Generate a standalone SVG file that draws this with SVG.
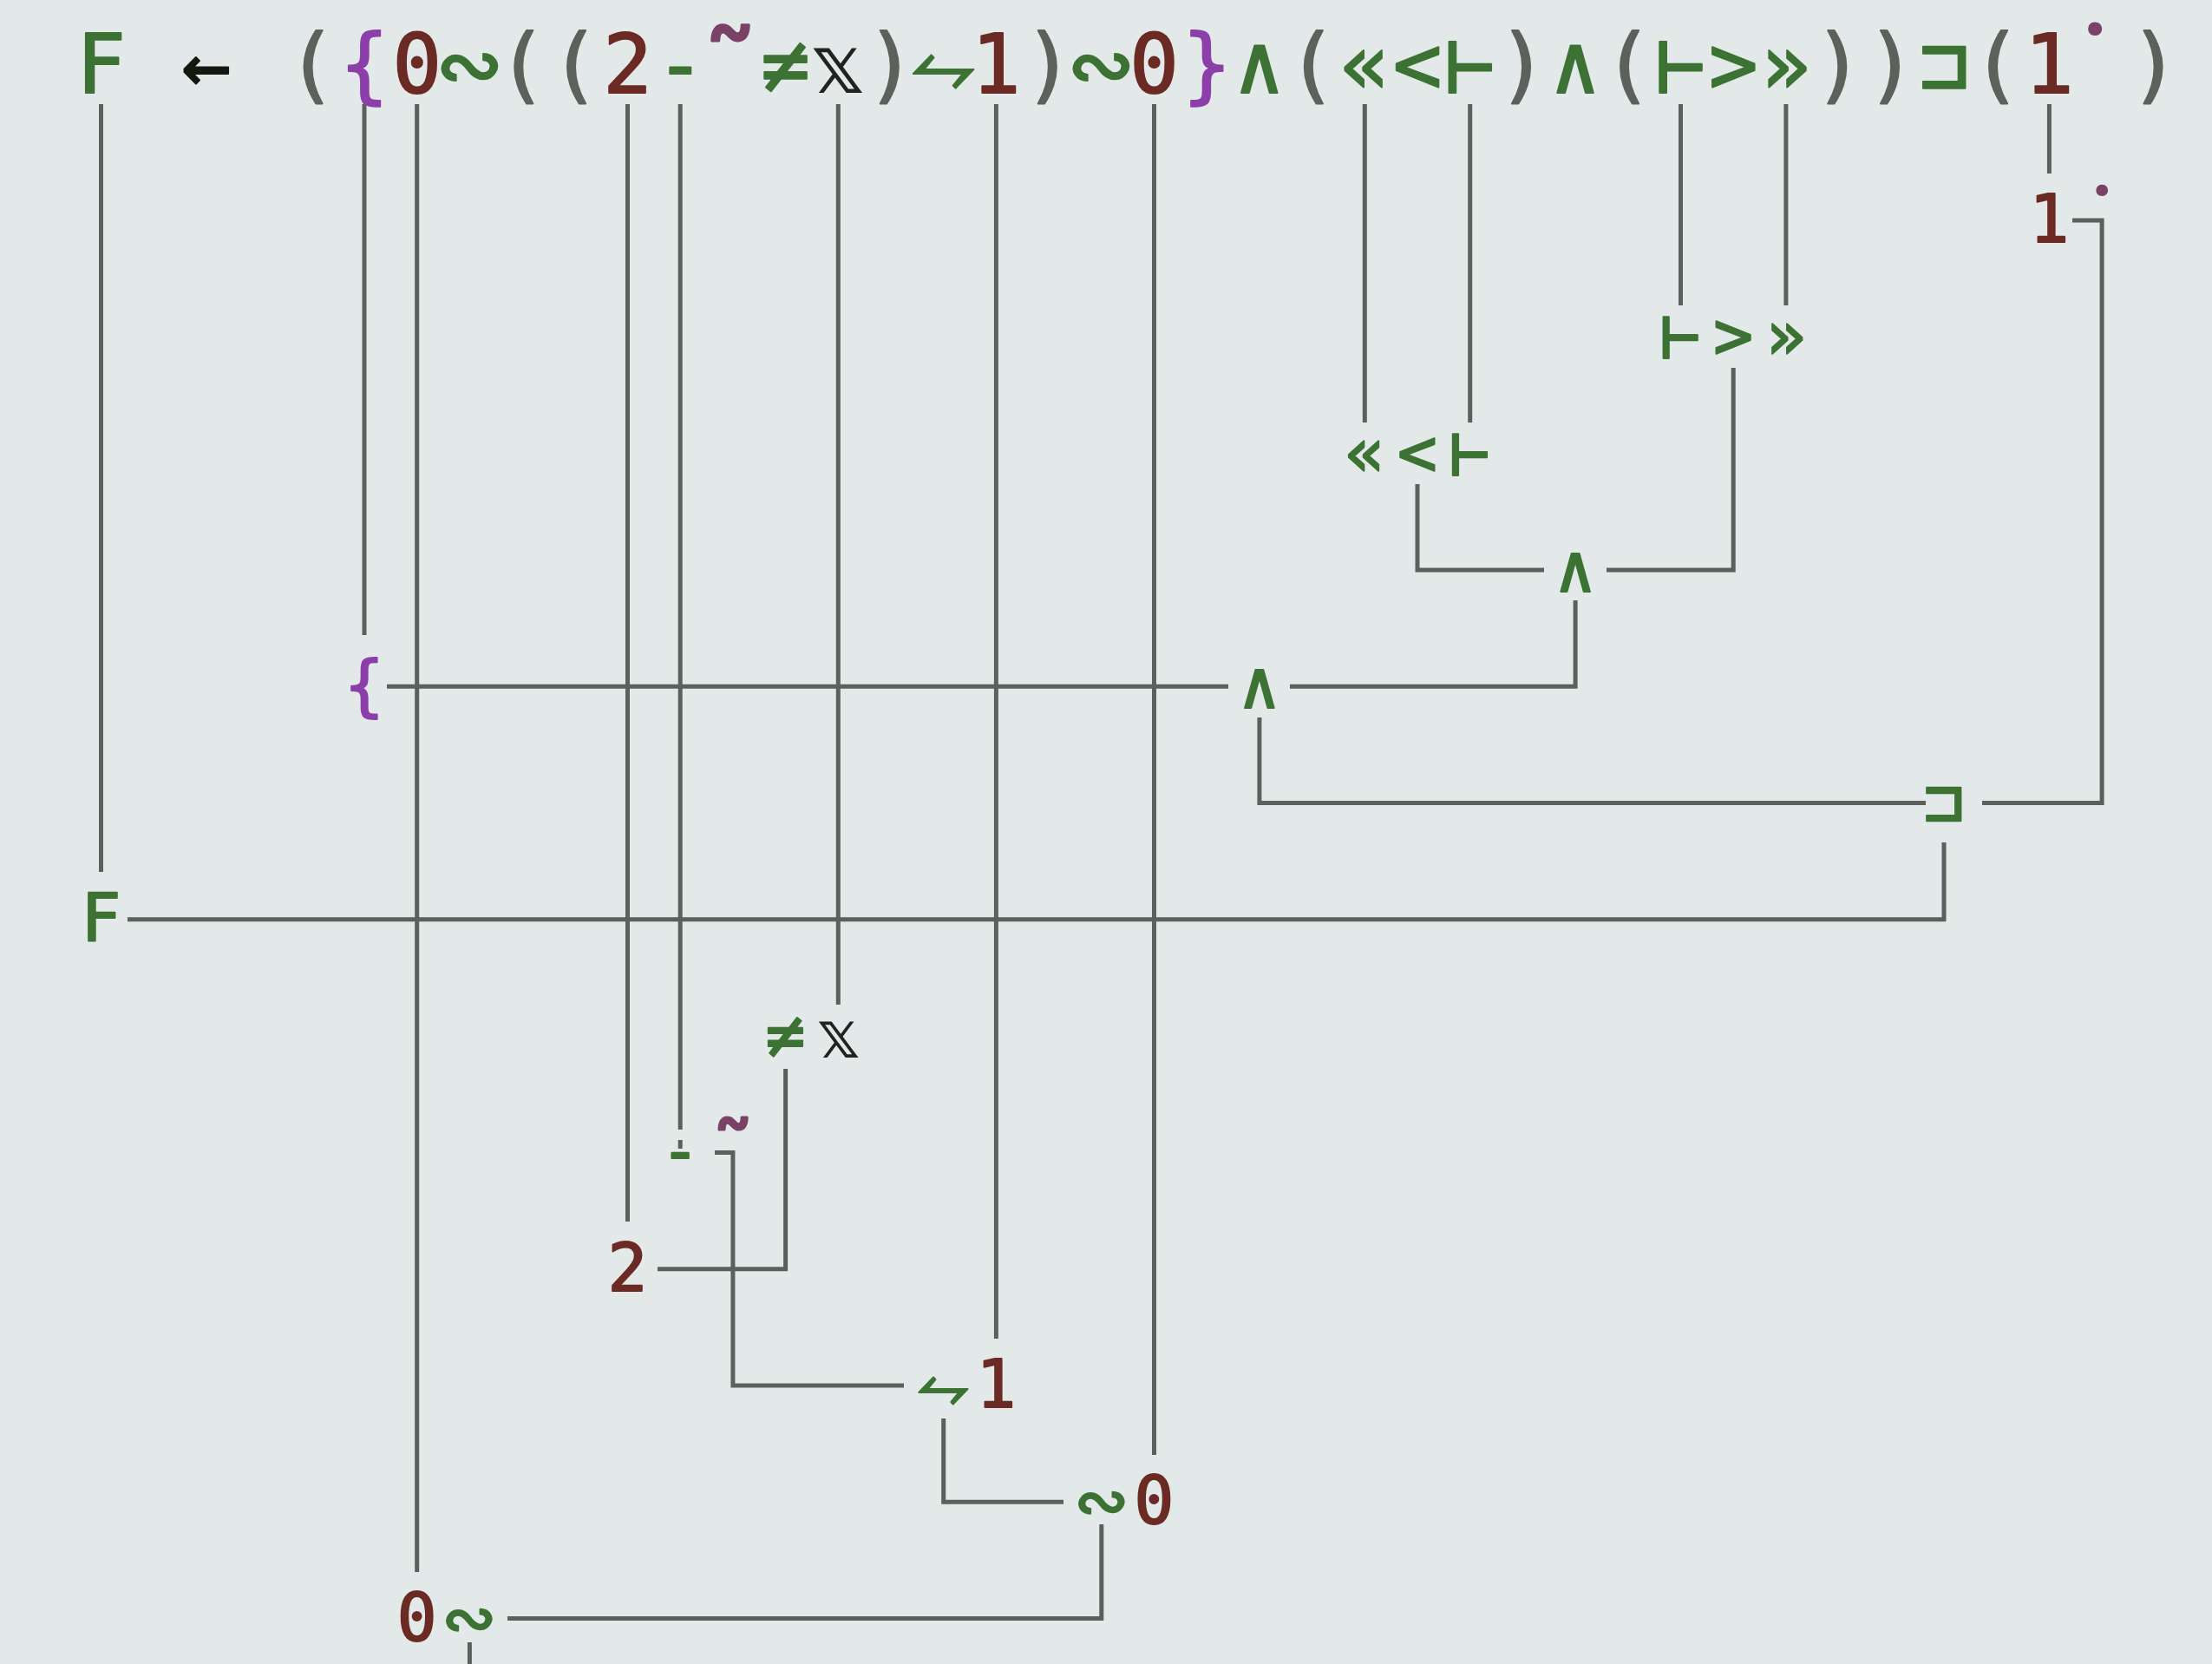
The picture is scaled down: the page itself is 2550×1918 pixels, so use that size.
<svg xmlns="http://www.w3.org/2000/svg" width="2550" height="1918" viewBox="0 0 2550 1918">
<style>
text{font-family:"DejaVu Sans Mono","Liberation Mono",monospace;text-anchor:middle;stroke-width:2;stroke-linejoin:round}
.top{font-size:94px}
.n{font-size:76px}
.g{fill:#3c7233;stroke:#3c7233}
.r{fill:#6b2a23;stroke:#6b2a23}
.p{fill:#5c615c;stroke:#5c615c}
.b{fill:#8c3fa9;stroke:#8c3fa9}
.m{fill:#7a4266;stroke:#7a4266;stroke-width:3}
.d{font-family:Roboto,"Open Sans",sans-serif;stroke:none}
.k{fill:#151810;stroke:#151810}
.x{fill:#222;stroke:none}
.c path{fill:none;stroke:#5a605b;stroke-width:5}
</style>
<rect width="2550" height="1918" fill="#e3e8e8"/>
<g id="connectors" class="c">
<path d="M116.5,120V1005"/>
<path d="M420,120V732"/>
<path d="M480.7,120V1812"/>
<path d="M723.5,120V1408"/>
<path d="M784.2,120V1302M784.2,1314V1324"/>
<path d="M966.3,120V1158"/>
<path d="M1148.4,120V1543"/>
<path d="M1330.5,120V1677"/>
<path d="M1573.3,120V487"/>
<path d="M1694.7,120V487"/>
<path d="M1937.5,120V352"/>
<path d="M2058.9,120V352"/>
<path d="M2362.4,120V200"/>
<path d="M2389,254H2423.1V925.5H2285"/>
<path d="M1998.2,424V656.9H1852"/>
<path d="M1634,558V656.9H1780"/>
<path d="M1816.1,692V791.2H1487"/>
<path d="M446,791.2H1416"/>
<path d="M1451.9,827V925.5H2220"/>
<path d="M2241,971V1059.8H147"/>
<path d="M905.6,1232V1462.7H758"/>
<path d="M824,1328.4H844.9V1597H1042"/>
<path d="M1087.7,1635V1731.3H1226"/>
<path d="M1269.8,1757V1865.6H585"/>
<path d="M541.4,1893V1918"/>
</g>
<g id="source">
<text class="top" y="107"><tspan class="g" x="116.5">F</tspan><tspan class="k" x="237.9">←</tspan><tspan class="p" x="359.3">(</tspan><tspan class="b" x="420">{</tspan><tspan class="r" x="480.7">0</tspan><tspan class="g" x="541.4">∾</tspan><tspan class="p" x="602.1">(</tspan><tspan class="p" x="662.8">(</tspan><tspan class="r" x="723.5">2</tspan><tspan class="g" x="784.2">-</tspan></text>
<text class="m" x="842" y="131" font-size="132">˜</text>
<text class="top" y="107"><tspan class="g" x="905.6">≠</tspan><tspan class="x" x="966.3">𝕩</tspan><tspan class="p" x="1027">)</tspan><tspan class="g" x="1087.7">⥊</tspan><tspan class="r" x="1148.4">1</tspan><tspan class="p" x="1209.1">)</tspan><tspan class="g" x="1269.8">∾</tspan><tspan class="r" x="1330.5">0</tspan><tspan class="b" x="1391.2">}</tspan><tspan class="g" x="1451.9">∧</tspan><tspan class="p" x="1512.6">(</tspan><tspan class="g" x="1573.3">«</tspan><tspan class="g" x="1634">&lt;</tspan><tspan class="g" x="1694.7">⊢</tspan><tspan class="p" x="1755.4">)</tspan><tspan class="g" x="1816.1">∧</tspan><tspan class="p" x="1876.8">(</tspan><tspan class="g" x="1937.5">⊢</tspan><tspan class="g" x="1998.2">&gt;</tspan><tspan class="g" x="2058.9">»</tspan><tspan class="p" x="2119.6">)</tspan><tspan class="p" x="2180.3">)</tspan><tspan class="g" x="2241">⊐</tspan><tspan class="p" x="2301.7">(</tspan><tspan class="r" x="2362.4">1</tspan><tspan class="p" x="2483.8">)</tspan></text>
<text class="m d" x="2415" y="134" font-size="150">˙</text>
</g>
<g id="n-const"><text class="n r" x="2362.4" y="279">1</text><text class="m d" x="2423.1" y="305" font-size="128">˙</text></g>
<g id="n-train2"><text class="n g" y="413.3"><tspan x="1937.5">⊢</tspan><tspan x="1998.2">&gt;</tspan><tspan x="2058.9">»</tspan></text></g>
<g id="n-train1"><text class="n g" y="547.6"><tspan x="1573.3">«</tspan><tspan x="1634">&lt;</tspan><tspan x="1694.7">⊢</tspan></text></g>
<g id="n-and2"><text class="n g" x="1816.1" y="681.9">∧</text></g>
<g id="n-brace"><text class="n b" x="420" y="816.2">{</text></g>
<g id="n-and1"><text class="n g" x="1451.9" y="816.2">∧</text></g>
<g id="n-classify"><text class="n g" x="2241" y="950.5">⊐</text></g>
<g id="n-F"><text class="n g" x="116.5" y="1084.8">F</text></g>
<g id="n-length"><text class="n" y="1219.1"><tspan class="g" x="905.6">≠</tspan><tspan class="x" x="966.3">𝕩</tspan></text></g>
<g id="n-minus"><text class="n g" x="784.2" y="1353.4">-</text><text class="m" x="845" y="1366" font-size="100">˜</text></g>
<g id="n-two"><text class="n r" x="723.5" y="1487.7">2</text></g>
<g id="n-reshape"><text class="n" y="1622"><tspan class="g" x="1087.7">⥊</tspan><tspan class="r" x="1148.4">1</tspan></text></g>
<g id="n-join2"><text class="n" y="1756.3"><tspan class="g" x="1269.8">∾</tspan><tspan class="r" x="1330.5">0</tspan></text></g>
<g id="n-join1"><text class="n" y="1890.6"><tspan class="r" x="480.7">0</tspan><tspan class="g" x="541.4">∾</tspan></text></g>
</svg>
